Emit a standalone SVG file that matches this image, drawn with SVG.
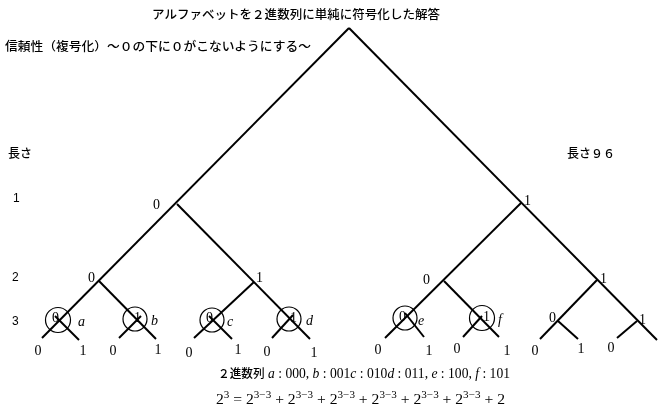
<svg xmlns="http://www.w3.org/2000/svg" width="659" height="415" viewBox="0 0 659 415">
<defs>
<filter id="gray" filterUnits="userSpaceOnUse" x="0" y="0" width="659" height="415"><feColorMatrix type="saturate" values="0"/></filter>
</defs>
<style>
.jp{font-family:"Noto Sans CJK JP","Liberation Sans",sans-serif;font-size:12px;font-weight:500;fill:#000}
.sn{font-family:"Liberation Sans",sans-serif;font-size:12px;fill:#000}
.sf{font-family:"Liberation Serif",serif;font-size:14px;fill:#000}
.it{font-family:"Liberation Serif",serif;font-size:14px;font-style:italic;fill:#000}
.lf{font-family:"Liberation Serif",serif;font-size:14px;fill:#000;text-anchor:middle}
.ln{stroke:#000;stroke-width:2;fill:none;stroke-linecap:butt}
.cr{stroke:#000;stroke-width:1.2;fill:none}
</style>
<rect width="659" height="415" fill="#fff"/>
<g filter="url(#gray)">
<g id="titles">
<text class="jp" x="152" y="19" textLength="288" lengthAdjust="spacingAndGlyphs">アルファベットを２進数列に単純に符号化した解答</text>
<text class="jp" x="5" y="51" textLength="306" lengthAdjust="spacingAndGlyphs">信頼性（複号化）～０の下に０がこないようにする～</text>
<text class="jp" x="8" y="158">長さ</text>
<text class="jp" x="567" y="158">長さ９６</text>
<text class="sn" x="13" y="202">1</text>
<text class="sn" x="12" y="281">2</text>
<text class="sn" x="12" y="325">3</text>
</g>
<g id="connectors">
<line class="ln" x1="349" y1="28" x2="42" y2="338"/>
<line class="ln" x1="349" y1="28" x2="657" y2="340"/>
<line class="ln" x1="177" y1="204" x2="310" y2="339"/>
<line class="ln" x1="254" y1="282" x2="194" y2="338"/>
<line class="ln" x1="99" y1="281" x2="156" y2="339"/>
<line class="ln" x1="55" y1="316" x2="79" y2="340"/>
<line class="ln" x1="141" y1="316" x2="119" y2="338"/>
<line class="ln" x1="209" y1="316" x2="232" y2="339"/>
<line class="ln" x1="293" y1="315" x2="272" y2="338"/>
<line class="ln" x1="521" y1="203" x2="385" y2="338"/>
<line class="ln" x1="444" y1="281" x2="499" y2="337"/>
<line class="ln" x1="405" y1="313" x2="424" y2="337"/>
<line class="ln" x1="482" y1="316" x2="463" y2="337"/>
<line class="ln" x1="597" y1="280" x2="540" y2="339"/>
<line class="ln" x1="558" y1="321" x2="578" y2="339"/>
<line class="ln" x1="637" y1="321" x2="617" y2="338"/>
</g>
<g id="n-root"/>
<g id="n-0"><text class="sf" x="153" y="209">0</text></g>
<g id="n-1"><text class="sf" x="524" y="205">1</text></g>
<g id="n-00"><text class="sf" x="88" y="282">0</text></g>
<g id="n-01"><text class="sf" x="256" y="282">1</text></g>
<g id="n-10"><text class="sf" x="423" y="284">0</text></g>
<g id="n-11"><text class="sf" x="600" y="283">1</text></g>
<g id="n-a"><circle class="cr" cx="58" cy="320" r="12.5"/><text class="sf" x="52" y="322">0</text><text class="it" x="78" y="326">a</text></g>
<g id="n-b"><circle class="cr" cx="135" cy="319" r="12"/><text class="sf" x="134" y="322">1</text><text class="it" x="151" y="325">b</text></g>
<g id="n-c"><circle class="cr" cx="212" cy="320" r="12"/><text class="sf" x="206" y="322">0</text><text class="it" x="227" y="326">c</text></g>
<g id="n-d"><circle class="cr" cx="289" cy="319" r="12"/><text class="sf" x="290" y="322">1</text><text class="it" x="306" y="325">d</text></g>
<g id="n-e"><circle class="cr" cx="405" cy="318" r="12"/><text class="sf" x="399" y="321">0</text><text class="it" x="418" y="325">e</text></g>
<g id="n-f"><circle class="cr" cx="482" cy="318" r="12.5"/><text class="sf" x="483" y="321">1</text><text class="it" x="498" y="324">f</text></g>
<g id="n-100"><text class="sf" x="549" y="322">0</text></g>
<g id="n-111"><text class="sf" x="639" y="324">1</text></g>
<g id="leaves">
<text class="lf" x="38" y="355">0</text><text class="lf" x="83" y="355">1</text>
<text class="lf" x="113" y="355">0</text><text class="lf" x="158" y="354">1</text>
<text class="lf" x="189" y="357">0</text><text class="lf" x="238" y="354">1</text>
<text class="lf" x="267" y="356">0</text><text class="lf" x="314" y="357">1</text>
<text class="lf" x="378" y="354">0</text><text class="lf" x="429" y="355">1</text>
<text class="lf" x="457" y="353">0</text><text class="lf" x="507" y="355">1</text>
<text class="lf" x="535" y="355">0</text><text class="lf" x="581" y="353">1</text>
<text class="lf" x="611" y="352">0</text>
</g>
<g id="bottom">
<text class="sf" x="218" y="378" font-size="14" textLength="292" lengthAdjust="spacingAndGlyphs"><tspan class="jp" font-size="13">２進数列</tspan> <tspan font-style="italic">a</tspan> : 000, <tspan font-style="italic">b</tspan> : 001<tspan font-style="italic">c</tspan> : 010<tspan font-style="italic">d</tspan> : 011, <tspan font-style="italic">e</tspan> : 100, <tspan font-style="italic">f</tspan> : 101</text>
<text class="sf" x="216" y="404" font-size="15" textLength="289" lengthAdjust="spacingAndGlyphs">2<tspan font-size="10" dy="-6">3</tspan><tspan dy="6"> = 2</tspan><tspan font-size="10" dy="-6">3−3</tspan><tspan dy="6"> + 2</tspan><tspan font-size="10" dy="-6">3−3</tspan><tspan dy="6"> + 2</tspan><tspan font-size="10" dy="-6">3−3</tspan><tspan dy="6"> + 2</tspan><tspan font-size="10" dy="-6">3−3</tspan><tspan dy="6"> + 2</tspan><tspan font-size="10" dy="-6">3−3</tspan><tspan dy="6"> + 2</tspan><tspan font-size="10" dy="-6">3−3</tspan><tspan dy="6"> + 2</tspan></text>
</g>
</g>
</svg>
